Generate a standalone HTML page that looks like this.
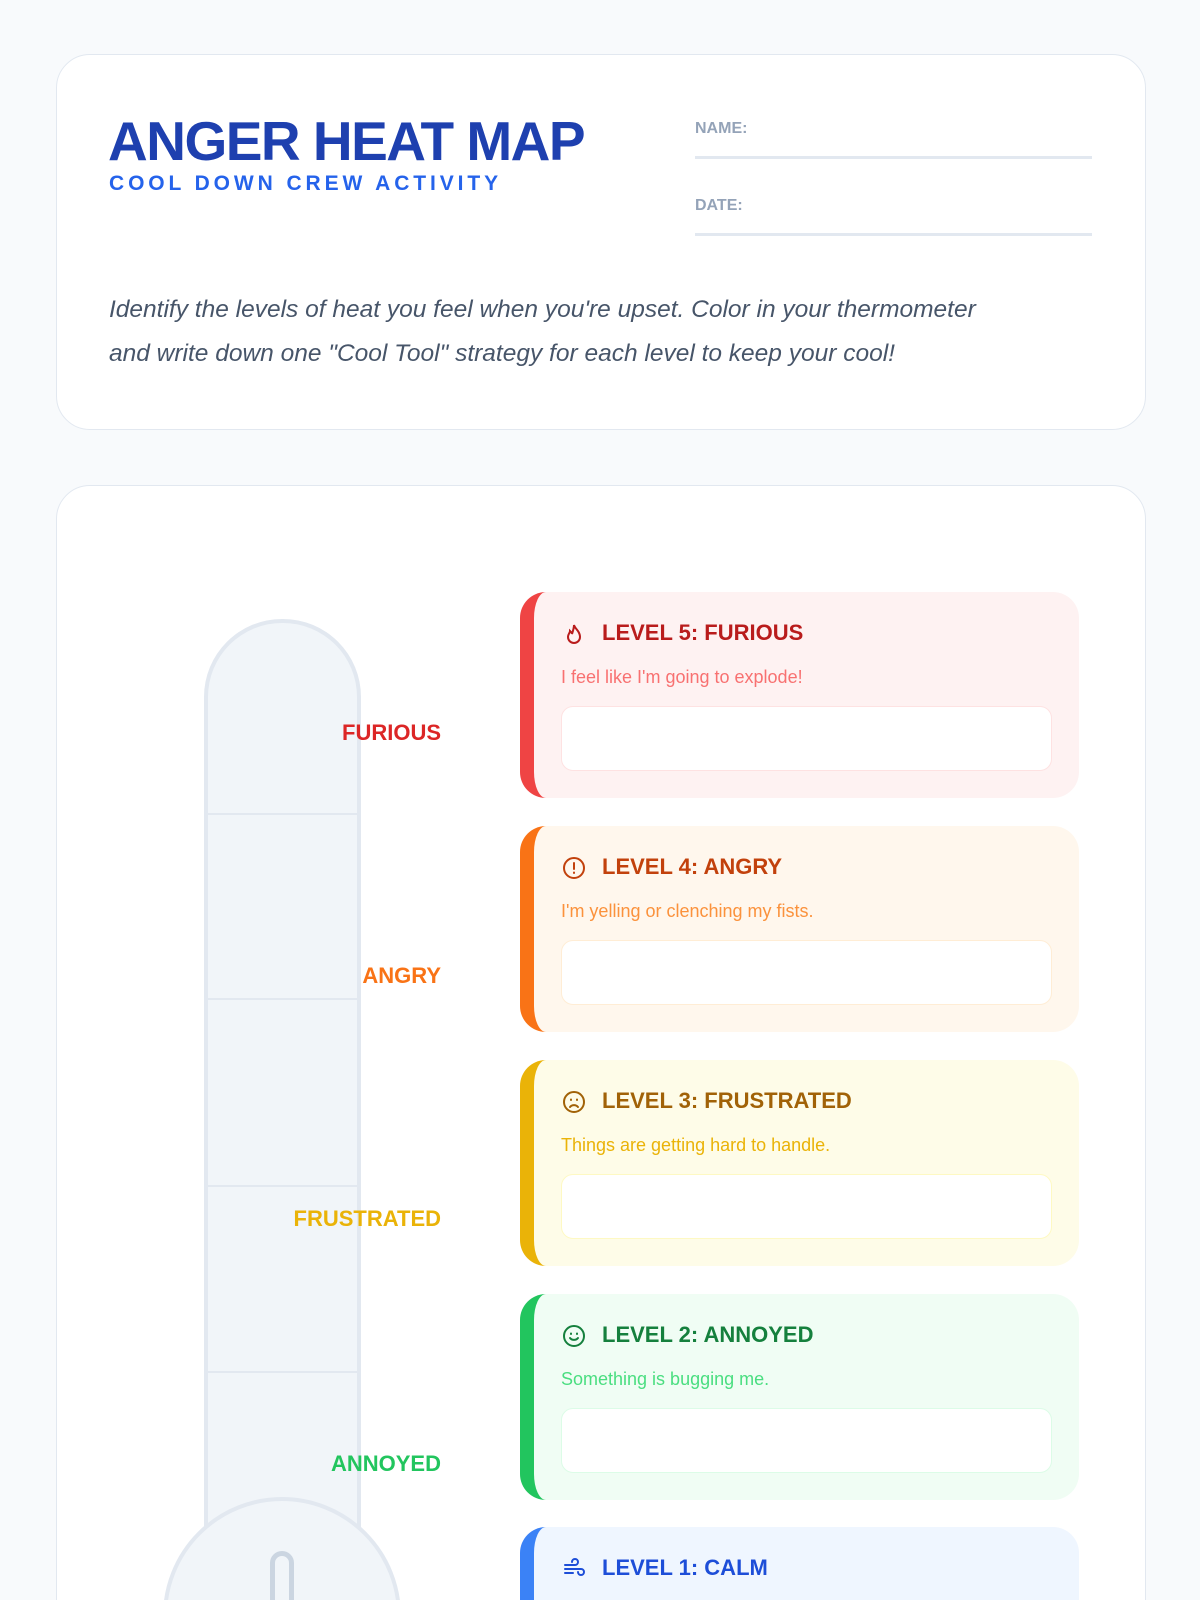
<!DOCTYPE html>
<html><head><meta charset="utf-8"><style>
*{box-sizing:border-box;margin:0;padding:0}
html,body{width:1200px;height:1600px;overflow:hidden}
body{background:#f8fafc;font-family:"Liberation Sans",sans-serif}
#w{position:relative;width:1200px;height:1600px;overflow:hidden}
.card{position:absolute;left:56px;width:1090px;background:#fff;border:1.5px solid #e2e8f0;border-radius:34px}
h1{position:absolute;left:108px;top:109px;font-size:55px;font-weight:900;color:#1e40af;letter-spacing:-1.5px;white-space:nowrap}
.sub{position:absolute;left:109px;top:172px;font-size:21px;font-weight:bold;color:#2563eb;letter-spacing:3.9px}
.lbl{position:absolute;left:695px;font-size:16px;font-weight:bold;color:#94a3b8}
.line{position:absolute;left:695px;width:397px;height:3px;background:#e2e8f0}
.desc{position:absolute;left:109px;top:288px;font-size:24.5px;font-style:italic;color:#475569;line-height:44px;width:1000px;white-space:nowrap}
.tube{position:absolute;left:204px;top:619px;width:157px;height:910px;background:#f1f5f9;border:4px solid #e2e8f0;border-radius:78px 78px 0 0;border-bottom:none}
.div{position:absolute;left:208px;width:149px;height:2px;background:#e2e8f0}
.bulb{position:absolute;left:163px;top:1497px;width:238px;height:238px;border-radius:50%;background:#f1f5f9;border:4px solid #e2e8f0}
.col{position:absolute;left:270px;top:1551px;width:24px;height:80px;border:5px solid #cbd5e1;border-radius:12px;background:#f1f5f9}
.tl{position:absolute;right:759px;font-size:22px;font-weight:bold;white-space:nowrap}
.lv{position:absolute;left:520px;width:559px;height:206px;border-radius:26px;border-left:14px solid}
.lv .t{position:absolute;left:68px;top:28px;font-size:22px;font-weight:bold;white-space:nowrap}
.lv .ic{position:absolute;left:28px;top:30px;width:24px;height:24px}
.lv .d{position:absolute;left:27px;top:75px;font-size:18px}
.lv .in{position:absolute;left:27px;top:114px;width:491px;height:65px;background:#fff;border-radius:12px;border:1.5px solid}
</style></head><body><div id="w">
<div class="card" style="top:54px;height:376px"></div>
<h1>ANGER HEAT MAP</h1>
<div class="sub">COOL DOWN CREW ACTIVITY</div>
<div class="lbl" style="top:120px">NAME:</div><div class="line" style="top:156px"></div>
<div class="lbl" style="top:197px">DATE:</div><div class="line" style="top:233px"></div>
<div class="desc">Identify the levels of heat you feel when you're upset. Color in your thermometer<br>and write down one "Cool Tool" strategy for each level to keep your cool!</div>
<div class="card" style="top:485px;height:1200px"></div>
<div class="tube"></div>
<div class="div" style="top:813px"></div><div class="div" style="top:998px"></div><div class="div" style="top:1185px"></div><div class="div" style="top:1371px"></div>
<div class="bulb"></div>
<div class="col"></div>
<div class="tl" style="top:720px;color:#dc2626">FURIOUS</div>
<div class="tl" style="top:963px;color:#f97316">ANGRY</div>
<div class="tl" style="top:1206px;color:#eab308">FRUSTRATED</div>
<div class="tl" style="top:1451px;color:#22c55e">ANNOYED</div>

<div class="lv" style="top:592px;background:#fef2f2;border-left-color:#ef4444">
<svg class="ic" viewBox="0 0 24 24" fill="none" stroke="#b91c1c" stroke-width="2" stroke-linecap="round"><path d="M12 3c1 4 6 6 6 12a6 6 0 0 1-12 0c0-3 2-4 2-6 1 1 2 2 2 3 1-3 2-6 2-9z"/></svg>
<div class="t" style="color:#b91c1c">LEVEL 5: FURIOUS</div>
<div class="d" style="color:#f87171">I feel like I'm going to explode!</div>
<div class="in" style="border-color:#fee2e2"></div></div>

<div class="lv" style="top:826px;background:#fff7ed;border-left-color:#f97316">
<svg class="ic" viewBox="0 0 24 24" fill="none" stroke="#c2410c" stroke-width="2" stroke-linecap="round"><circle cx="12" cy="12" r="10"/><path d="M12 7v6M12 16.5v.5"/></svg>
<div class="t" style="color:#c2410c">LEVEL 4: ANGRY</div>
<div class="d" style="color:#fb923c">I'm yelling or clenching my fists.</div>
<div class="in" style="border-color:#ffedd5"></div></div>

<div class="lv" style="top:1060px;background:#fefce8;border-left-color:#eab308">
<svg class="ic" viewBox="0 0 24 24" fill="none" stroke="#a16207" stroke-width="2" stroke-linecap="round"><circle cx="12" cy="12" r="10"/><path d="M8 17c2-2.5 6-2.5 8 0M9 9.5v.5M15 9.5v.5"/></svg>
<div class="t" style="color:#a16207">LEVEL 3: FRUSTRATED</div>
<div class="d" style="color:#eab308">Things are getting hard to handle.</div>
<div class="in" style="border-color:#fef9c3"></div></div>

<div class="lv" style="top:1294px;background:#f0fdf4;border-left-color:#22c55e">
<svg class="ic" viewBox="0 0 24 24" fill="none" stroke="#15803d" stroke-width="2" stroke-linecap="round"><circle cx="12" cy="12" r="10"/><path d="M8 14c2 2.5 6 2.5 8 0M9 9.5v.5M15 9.5v.5"/></svg>
<div class="t" style="color:#15803d">LEVEL 2: ANNOYED</div>
<div class="d" style="color:#4ade80">Something is bugging me.</div>
<div class="in" style="border-color:#dcfce7"></div></div>

<div class="lv" style="top:1527px;background:#eff6ff;border-left-color:#3b82f6">
<svg class="ic" viewBox="0 0 24 24" fill="none" stroke="#1d4ed8" stroke-width="2" stroke-linecap="round"><path d="M3 8h10a3 3 0 1 0-3-3M3 12h16a3 3 0 1 1-3 3M3 16h8"/></svg>
<div class="t" style="color:#1d4ed8">LEVEL 1: CALM</div></div>
</div></body></html>
